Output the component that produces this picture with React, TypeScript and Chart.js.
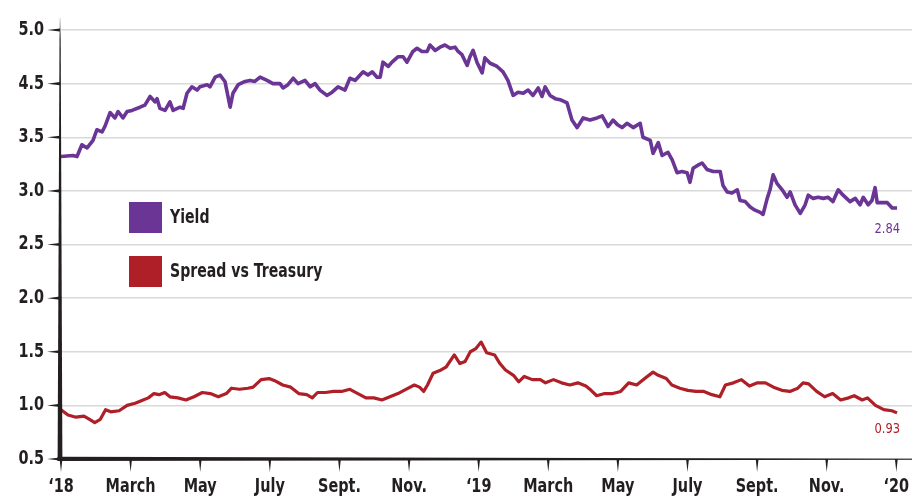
import { useEffect, useRef } from 'react';
import { Chart, registerables } from 'chart.js';

Chart.register(...registerables);

const FONT = "'DejaVu Sans', sans-serif";
const CONDENSE = 0.76;
const LEGEND_CONDENSE = 0.705;
const PURPLE = '#6a3594';
const RED = '#ae1f27';
const INK = '#231f20';

const X_TICK_LABELS = ['\u201818', 'March', 'May', 'July', 'Sept.', 'Nov.', '\u201819', 'March', 'May', 'July', 'Sept.', 'Nov.', '\u201820'];
const Y_TICK_LABELS = ['0.5', '1.0', '1.5', '2.0', '2.5', '3.0', '3.5', '4.5', '5.0'];
const SERIES_NAMES = ['Yield', 'Spread vs Treasury'];
const END_LABELS = ['2.84', '0.93'];

// months since Jan 1 2018
const YIELD_MONTHS = [
  0, 0.34, 0.46, 0.6, 0.75, 0.92, 1.03, 1.18, 1.26, 1.41, 1.55, 1.64, 1.78, 1.9, 2.04, 2.27, 2.41, 2.56, 2.7, 2.76,
  2.84, 2.99, 3.13, 3.22, 3.42, 3.51, 3.62, 3.76, 3.91, 3.99, 4.2, 4.28, 4.43, 4.57, 4.71, 4.86, 4.94, 5.09, 5.29, 5.43,
  5.57, 5.72, 5.92, 6.09, 6.29, 6.38, 6.52, 6.67, 6.81, 7.01, 7.16, 7.3, 7.44, 7.64, 7.79, 7.96, 8.16, 8.3, 8.45, 8.68,
  8.82, 8.94, 9.08, 9.17, 9.25, 9.4, 9.51, 9.68, 9.83, 9.94, 10.11, 10.23, 10.37, 10.52, 10.6, 10.75, 10.89, 11.03, 11.18, 11.32,
  11.41, 11.52, 11.67, 11.75, 11.84, 11.95, 12.1, 12.18, 12.33, 12.53, 12.7, 12.84, 12.99, 13.13, 13.28, 13.42, 13.56, 13.71, 13.82, 13.91,
  14.05, 14.2, 14.34, 14.54, 14.68, 14.83, 15.0, 15.2, 15.4, 15.55, 15.72, 15.86, 15.98, 16.12, 16.26, 16.44, 16.64, 16.72, 16.93, 17.01,
  17.16, 17.27, 17.44, 17.56, 17.7, 17.84, 17.99, 18.07, 18.16, 18.3, 18.42, 18.56, 18.74, 18.94, 19.02, 19.14, 19.28, 19.43, 19.51, 19.66,
  19.8, 19.94, 20.09, 20.17, 20.29, 20.37, 20.46, 20.57, 20.72, 20.86, 20.95, 21.09, 21.24, 21.38, 21.47, 21.61, 21.75, 21.9, 22.04, 22.18,
  22.33, 22.47, 22.67, 22.82, 22.96, 23.05, 23.19, 23.3, 23.39, 23.45, 23.59, 23.74, 23.88, 24.02,
];
const YIELD_VALUES = [
  3.32, 3.33, 3.32, 3.43, 3.40, 3.47, 3.57, 3.55, 3.60, 3.73, 3.68, 3.74, 3.68, 3.74, 3.75, 3.78, 3.80, 3.88, 3.83, 3.86,
  3.77, 3.75, 3.83, 3.75, 3.78, 3.77, 3.91, 3.97, 3.94, 3.97, 3.99, 3.97, 4.06, 4.08, 4.02, 3.78, 3.91, 3.99, 4.02, 4.03,
  4.02, 4.06, 4.03, 4.00, 4.00, 3.96, 3.99, 4.05, 4.00, 4.03, 3.97, 4.00, 3.94, 3.89, 3.92, 3.97, 3.94, 4.05, 4.03, 4.11,
  4.08, 4.11, 4.06, 4.06, 4.20, 4.16, 4.20, 4.25, 4.25, 4.20, 4.30, 4.33, 4.30, 4.30, 4.36, 4.31, 4.34, 4.36, 4.33, 4.34,
  4.30, 4.27, 4.17, 4.25, 4.31, 4.20, 4.10, 4.24, 4.19, 4.16, 4.11, 4.03, 3.89, 3.92, 3.91, 3.94, 3.89, 3.96, 3.88, 3.97,
  3.89, 3.86, 3.85, 3.82, 3.66, 3.59, 3.68, 3.66, 3.68, 3.70, 3.60, 3.66, 3.62, 3.59, 3.63, 3.59, 3.63, 3.50, 3.47, 3.35,
  3.45, 3.33, 3.36, 3.29, 3.17, 3.18, 3.17, 3.08, 3.21, 3.24, 3.26, 3.20, 3.18, 3.18, 3.05, 2.99, 2.98, 3.01, 2.91, 2.90,
  2.85, 2.82, 2.80, 2.78, 2.93, 3.01, 3.15, 3.07, 3.01, 2.94, 2.99, 2.87, 2.79, 2.87, 2.96, 2.93, 2.94, 2.93, 2.94, 2.90,
  3.01, 2.96, 2.90, 2.93, 2.87, 2.94, 2.87, 2.91, 3.03, 2.89, 2.89, 2.89, 2.84, 2.84,
];

const SPREAD_MONTHS = [
  0, 0.2, 0.43, 0.66, 0.82, 0.97, 1.13, 1.28, 1.43, 1.67, 1.9, 2.13, 2.36, 2.51, 2.67, 2.82, 2.98, 3.13, 3.36, 3.59,
  3.82, 4.06, 4.29, 4.52, 4.75, 4.9, 5.13, 5.37, 5.52, 5.75, 5.98, 6.14, 6.37, 6.6, 6.83, 7.06, 7.22, 7.37, 7.6, 7.83,
  8.06, 8.3, 8.53, 8.76, 8.99, 9.22, 9.45, 9.68, 9.91, 10.15, 10.3, 10.42, 10.53, 10.69, 10.92, 11.07, 11.3, 11.46, 11.61, 11.76,
  11.92, 12.07, 12.23, 12.46, 12.61, 12.77, 13.0, 13.15, 13.31, 13.54, 13.77, 13.92, 14.15, 14.38, 14.62, 14.85, 15.08, 15.23, 15.39, 15.62,
  15.85, 16.08, 16.31, 16.54, 16.77, 17.01, 17.16, 17.39, 17.55, 17.78, 18.01, 18.24, 18.47, 18.7, 18.93, 19.09, 19.32, 19.55, 19.78, 20.01,
  20.24, 20.47, 20.71, 20.94, 21.17, 21.32, 21.48, 21.71, 21.94, 22.17, 22.4, 22.63, 22.79, 23.02, 23.17, 23.4, 23.64, 23.87, 24.02,
];
const SPREAD_VALUES = [
  0.96, 0.91, 0.89, 0.90, 0.87, 0.84, 0.87, 0.96, 0.94, 0.95, 1.00, 1.02, 1.05, 1.07, 1.11, 1.10, 1.12, 1.08, 1.07, 1.05,
  1.08, 1.12, 1.11, 1.08, 1.11, 1.16, 1.15, 1.16, 1.17, 1.24, 1.25, 1.23, 1.19, 1.17, 1.11, 1.10, 1.07, 1.12, 1.12, 1.13,
  1.13, 1.15, 1.11, 1.07, 1.07, 1.05, 1.08, 1.11, 1.15, 1.19, 1.17, 1.13, 1.19, 1.30, 1.33, 1.36, 1.47, 1.39, 1.41, 1.50,
  1.53, 1.59, 1.49, 1.47, 1.39, 1.33, 1.28, 1.22, 1.27, 1.24, 1.24, 1.21, 1.24, 1.21, 1.19, 1.21, 1.18, 1.14, 1.09, 1.11,
  1.11, 1.13, 1.21, 1.19, 1.25, 1.31, 1.28, 1.25, 1.19, 1.16, 1.14, 1.13, 1.13, 1.10, 1.08, 1.19, 1.21, 1.24, 1.18, 1.21,
  1.21, 1.17, 1.14, 1.13, 1.16, 1.21, 1.20, 1.13, 1.08, 1.11, 1.05, 1.07, 1.09, 1.05, 1.07, 1.00, 0.96, 0.95, 0.93,
];

const toPoints = (xs: number[], ys: number[]) => xs.map((x, i) => ({ x, y: ys[i] }));

function condensedText(ctx: CanvasRenderingContext2D, text: string, x: number, y: number, align: CanvasTextAlign, sx: number) {
  ctx.save();
  ctx.translate(x, y);
  ctx.scale(sx, 1);
  ctx.textAlign = align;
  ctx.fillText(text, 0, 0);
  ctx.restore();
}

const decorPlugin = {
  id: 'decor',
  afterDatasetsDraw(chart: any) {
    const { ctx, chartArea, scales } = chart;
    const { left, right, top, bottom } = chartArea;
    const x = scales.x;
    const y = scales.y;
    ctx.save();
    ctx.fillStyle = INK;
    // y tick spikes + labels
    y.ticks.forEach((t: any, i: number) => {
      const py = y.getPixelForValue(t.value);
      ctx.beginPath();
      ctx.moveTo(left - 1, py - 1.6);
      ctx.lineTo(left - 14, py);
      ctx.lineTo(left - 1, py + 1.6);
      ctx.closePath();
      ctx.fill();
      ctx.font = `bold 19px ${FONT}`;
      ctx.textBaseline = 'middle';
      condensedText(ctx, Y_TICK_LABELS[i] ?? '', 44, py, 'right', CONDENSE);
    });
    // x tick spikes + labels
    x.ticks.forEach((t: any) => {
      const px = x.getPixelForValue(t.value);
      ctx.beginPath();
      ctx.moveTo(px - 1.4, bottom);
      ctx.lineTo(px, bottom + 13);
      ctx.lineTo(px + 1.4, bottom);
      ctx.closePath();
      ctx.fill();
      const idx = Math.round(t.value / 2);
      if (Math.abs(t.value - idx * 2) < 1e-6) {
        ctx.font = `bold 19px ${FONT}`;
        ctx.textBaseline = 'alphabetic';
        condensedText(ctx, X_TICK_LABELS[idx] ?? '', px, 492, 'center', CONDENSE);
      }
    });
    // tapered y axis
    const grad = ctx.createLinearGradient(0, top - 12, 0, top + 10);
    grad.addColorStop(0, 'rgba(35,31,32,0.15)');
    grad.addColorStop(1, INK);
    ctx.fillStyle = grad;
    ctx.beginPath();
    ctx.moveTo(left - 3.4, bottom + 2);
    ctx.lineTo(left + 1.4, bottom + 2);
    ctx.lineTo(left - 0.4, top - 12);
    ctx.lineTo(left - 1.4, top - 12);
    ctx.closePath();
    ctx.fill();
    // tapered x axis
    ctx.fillStyle = INK;
    ctx.beginPath();
    ctx.moveTo(left - 3.4, bottom - 2.3);
    ctx.lineTo(right, bottom - 0.2);
    ctx.lineTo(right, bottom + 0.8);
    ctx.lineTo(left - 3.4, bottom + 2);
    ctx.closePath();
    ctx.fill();
    ctx.restore();
  },
  afterDraw(chart: any) {
    const { ctx, scales } = chart;
    const x = scales.x;
    const y = scales.y;
    ctx.save();
    // legend
    const colors = [PURPLE, RED];
    const rows = [202, 256];
    SERIES_NAMES.forEach((name, i) => {
      ctx.fillStyle = colors[i];
      ctx.fillRect(129, rows[i], 33, 31);
      ctx.fillStyle = INK;
      ctx.font = `bold 20px ${FONT}`;
      ctx.textBaseline = 'middle';
      condensedText(ctx, name, 170, rows[i] + 16, 'left', LEGEND_CONDENSE);
    });
    // end labels
    const offsets = [21.5, 16.8];
    chart.data.datasets.forEach((ds: any, i: number) => {
      const last = ds.data[ds.data.length - 1];
      const px = x.getPixelForValue(last.x);
      const py = y.getPixelForValue(last.y);
      ctx.fillStyle = colors[i];
      ctx.font = `14px ${FONT}`;
      ctx.textBaseline = 'middle';
      condensedText(ctx, END_LABELS[i], px + 3, py + offsets[i], 'right', 0.82);
    });
    ctx.restore();
  },
};

export default function App() {
  const ref = useRef<HTMLCanvasElement | null>(null);
  useEffect(() => {
    if (!ref.current) return;
    const chart = new Chart(ref.current, {
      type: 'line',
      data: {
        datasets: [
          {
            label: SERIES_NAMES[0],
            data: toPoints(YIELD_MONTHS, YIELD_VALUES),
            borderColor: PURPLE,
            borderWidth: 3.6,
            pointRadius: 0,
            tension: 0,
            borderJoinStyle: 'round',
          },
          {
            label: SERIES_NAMES[1],
            data: toPoints(SPREAD_MONTHS, SPREAD_VALUES),
            borderColor: RED,
            borderWidth: 3.2,
            pointRadius: 0,
            tension: 0,
            borderJoinStyle: 'round',
          },
        ],
      },
      options: {
        animation: false,
        responsive: false,
        maintainAspectRatio: false,
        layout: { padding: { top: 30, right: 9, left: 0, bottom: 0 } },
        plugins: { legend: { display: false }, tooltip: { enabled: false } },
        scales: {
          x: {
            type: 'linear',
            min: 0,
            max: 24.45,
            border: { display: false },
            grid: { drawOnChartArea: false, drawTicks: false },
            ticks: { stepSize: 2, includeBounds: false, autoSkip: false, display: false },
            afterFit: (s: any) => {
              s.height = 40;
            },
          },
          y: {
            min: 0.5,
            max: 4.5,
            border: { display: false },
            grid: { color: '#d9d9d9', lineWidth: 1.5, drawTicks: false },
            ticks: { stepSize: 0.5, display: false },
            afterFit: (s: any) => {
              s.width = 61;
            },
          },
        },
      },
      plugins: [decorPlugin],
    } as any);
    return () => chart.destroy();
  }, []);
  return (
    <canvas
      ref={ref}
      width={921}
      height={499}
      style={{ position: 'fixed', left: 0, top: 0, width: 921, height: 499, display: 'block', background: '#fff' }}
    />
  );
}
